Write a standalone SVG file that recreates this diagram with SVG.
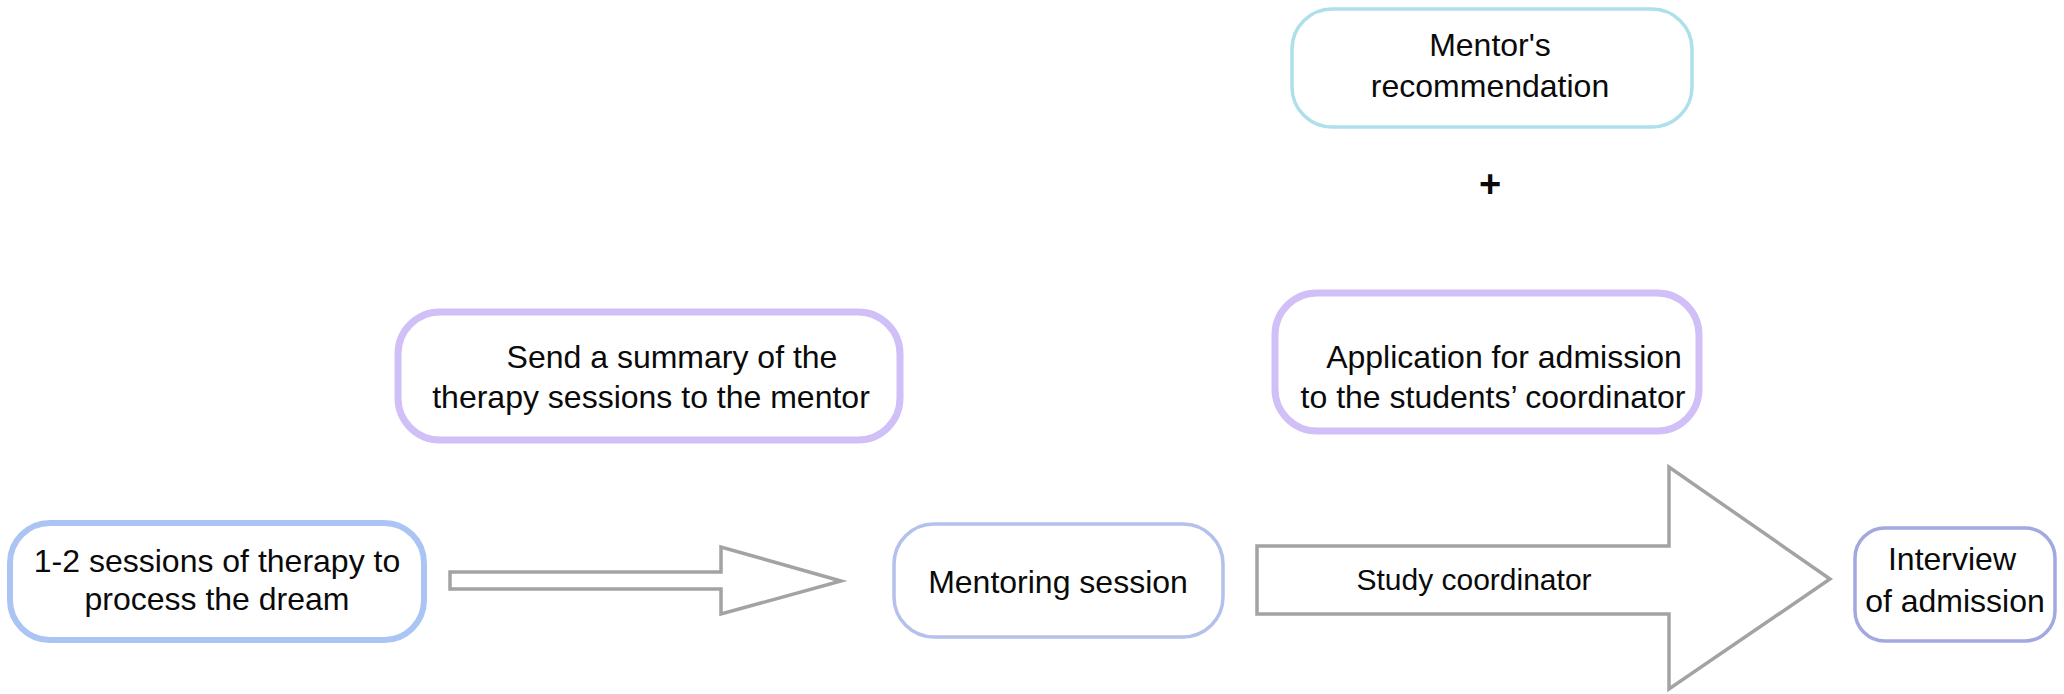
<svg xmlns="http://www.w3.org/2000/svg" width="2064" height="694" viewBox="0 0 2064 694">
<style>
.t{font-family:"Liberation Sans",Arial,sans-serif;font-size:32px;fill:#0a0a0a;text-anchor:middle}
.sk{fill:#fff;stroke-linejoin:round}
.solid{fill:#fff;stroke:#d1bff8;stroke-width:7}
.arr{fill:#fff;stroke:#a3a3a3;stroke-width:3.5;stroke-linejoin:miter}
</style>
<rect width="2064" height="694" fill="#fff"/>
<g id="connectors">
<polygon class="arr" points="450,572 721,572 721,547 841,581 721,614 721,589 450,589"/>
<polygon class="arr" points="1257,546 1669,546 1669,467 1830,579 1669,689 1669,614 1257,614"/>
</g>
<g id="node-therapy">
<rect class="sk" x="10" y="523" width="414" height="117" rx="40" stroke="#aac4f4" stroke-width="6"/>
<text class="t" x="217" y="572">1-2 sessions of therapy to</text>
<text class="t" x="217" y="610">process the dream</text>
</g>
<g id="node-summary">
<rect class="solid" x="398" y="312" width="502" height="128" rx="42"/>
<text class="t" x="672" y="368">Send a summary of the</text>
<text class="t" x="651" y="408">therapy sessions to the mentor</text>
</g>
<g id="node-mentoring">
<rect class="sk" x="894" y="524" width="329" height="113" rx="40" stroke="#b3c1ec" stroke-width="3.5"/>
<text class="t" x="1058" y="593">Mentoring session</text>
</g>
<g id="node-study-coordinator">
<text class="t" x="1474" y="590" style="font-size:30px">Study coordinator</text>
</g>
<g id="node-application">
<rect class="solid" x="1275" y="293" width="424" height="138" rx="42"/>
<text class="t" x="1504" y="368">Application for admission</text>
<text class="t" x="1493" y="408">to the students’ coordinator</text>
</g>
<g id="node-recommendation">
<rect class="sk" x="1292" y="9" width="400" height="118" rx="40" stroke="#ade0ea" stroke-width="3.5"/>
<text class="t" x="1490" y="56">Mentor's</text>
<text class="t" x="1490" y="97">recommendation</text>
</g>
<g id="plus">
<text class="t" x="1490" y="197" style="font-size:38px;font-weight:bold">+</text>
</g>
<g id="node-interview">
<rect class="sk" x="1855" y="528" width="200" height="113" rx="30" stroke="#a2a8e0" stroke-width="3.5"/>
<text class="t" x="1952" y="570">Interview</text>
<text class="t" x="1955" y="612">of admission</text>
</g>
</svg>
